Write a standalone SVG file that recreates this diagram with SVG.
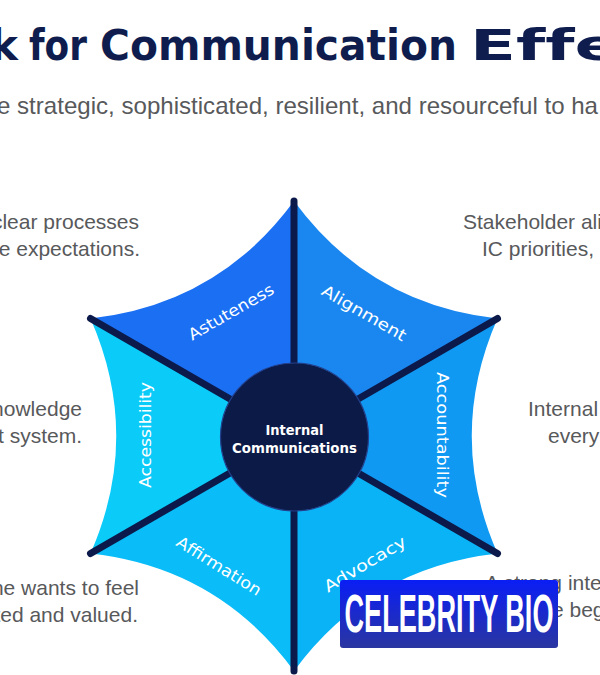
<svg xmlns="http://www.w3.org/2000/svg" width="600" height="675" viewBox="0 0 600 675">
<defs>
<linearGradient id="badgeGrad" x1="0" y1="0" x2="0" y2="1">
<stop offset="0" stop-color="#0a1ef5"/>
<stop offset="1" stop-color="#2a36a0"/>
</linearGradient>
</defs>
<style>
.body{font-family:"Liberation Sans",Arial,sans-serif;font-size:21px;fill:#58595b}
.title{font-family:"DejaVu Sans",sans-serif;font-size:42px;font-weight:bold;fill:#0f1d4e;font-variant-ligatures:none}
.lbl{font-family:"DejaVu Sans",sans-serif;font-size:16px;fill:#ffffff;text-anchor:middle}
.ctr{font-family:"DejaVu Sans",sans-serif;font-size:14px;font-weight:bold;fill:#ffffff;text-anchor:middle}
.spoke{stroke:#0b1a4a;stroke-width:7;stroke-linecap:round;fill:none}
</style>
<rect width="600" height="675" fill="#ffffff"/>
<g id="title">
<text class="title" x="-10" y="60">k</text>
<text class="title" x="29" y="60" textLength="58" lengthAdjust="spacingAndGlyphs">for</text>
<text class="title" x="100" y="60" textLength="357" lengthAdjust="spacingAndGlyphs">Communication</text>
<text class="title" x="470" y="60" textLength="150" lengthAdjust="spacingAndGlyphs">Effe</text>
</g>
<g id="subtitle">
<text class="body" style="font-size:24px" x="-3" y="114" textLength="601" lengthAdjust="spacingAndGlyphs">e strategic, sophisticated, resilient, and resourceful to ha</text>
</g>
<g id="sector-astuteness">
<path d="M294 436 L90.5 318.5 Q218 304.4 294 201 Z" fill="#1a6ff3"/>
<text class="lbl" transform="translate(231 312) rotate(-30)" x="0" y="5.5" textLength="96" lengthAdjust="spacingAndGlyphs">Astuteness</text>
</g>
<g id="sector-alignment">
<path d="M294 436 L294 201 Q370 304.4 497.5 318.5 Z" fill="#1a87f0"/>
<text class="lbl" transform="translate(364 313) rotate(30)" x="0" y="5.5" textLength="95" lengthAdjust="spacingAndGlyphs">Alignment</text>
</g>
<g id="sector-accountability">
<path d="M294 436 L497.5 318.5 Q446 436 497.5 553.5 Z" fill="#0f99f3"/>
<text class="lbl" transform="translate(442 435) rotate(90)" x="0" y="5.5" textLength="126" lengthAdjust="spacingAndGlyphs">Accountability</text>
</g>
<g id="sector-advocacy">
<path d="M294 436 L497.5 553.5 Q370 567.6 294 671 Z" fill="#0ab3f5"/>
<text class="lbl" transform="translate(365 564) rotate(-31)" x="0" y="5.5" textLength="93" lengthAdjust="spacingAndGlyphs">Advocacy</text>
</g>
<g id="sector-affirmation">
<path d="M294 436 L294 671 Q218 567.6 90.5 553.5 Z" fill="#0abcf8"/>
<text class="lbl" transform="translate(219 566) rotate(32)" x="0" y="5.5" textLength="97" lengthAdjust="spacingAndGlyphs">Affirmation</text>
</g>
<g id="sector-accessibility">
<path d="M294 436 L90.5 553.5 Q142 436 90.5 318.5 Z" fill="#0bcbf9"/>
<text class="lbl" transform="translate(145 435) rotate(-90)" x="0" y="5.5" textLength="106" lengthAdjust="spacingAndGlyphs">Accessibility</text>
</g>
<g id="connectors">
<line class="spoke" x1="294" y1="436" x2="294" y2="201"/>
<line class="spoke" x1="294" y1="436" x2="497.5" y2="318.5"/>
<line class="spoke" x1="294" y1="436" x2="497.5" y2="553.5"/>
<line class="spoke" x1="294" y1="436" x2="294" y2="671"/>
<line class="spoke" x1="294" y1="436" x2="90.5" y2="553.5"/>
<line class="spoke" x1="294" y1="436" x2="90.5" y2="318.5"/>
</g>
<g id="center">
<circle cx="294.5" cy="437" r="74" fill="#0c1a47" stroke="#23408c" stroke-width="1.2"/>
<text class="ctr" x="294.5" y="435" textLength="58" lengthAdjust="spacingAndGlyphs">Internal</text>
<text class="ctr" x="294.5" y="453" textLength="125" lengthAdjust="spacingAndGlyphs">Communications</text>
</g>
<g id="text-left">
<text class="body" x="139" y="229" text-anchor="end">clear processes</text>
<text class="body" x="140" y="256" text-anchor="end">e expectations.</text>
<text class="body" x="82" y="416" text-anchor="end">nowledge</text>
<text class="body" x="82" y="443" text-anchor="end">t system.</text>
<text class="body" x="139" y="595" text-anchor="end">ne wants to feel</text>
<text class="body" x="138" y="622" text-anchor="end">ted and valued.</text>
</g>
<g id="text-right">
<text class="body" x="463" y="229">Stakeholder ali</text>
<text class="body" x="482" y="256">IC priorities,</text>
<text class="body" x="528" y="416">Internal</text>
<text class="body" x="548" y="443">every</text>
<text class="body" x="485" y="590">A strong inte</text>
<text class="body" x="552" y="617">e beg</text>
</g>
<g id="badge">
<rect x="340" y="580" width="218" height="68" rx="3" fill="url(#badgeGrad)"/>
<text x="449" y="632" text-anchor="middle" textLength="209" lengthAdjust="spacingAndGlyphs" style="font-family:'Liberation Sans',Arial,sans-serif;font-weight:bold;font-size:54px;fill:#ffffff">CELEBRITY BIO</text>
</g>
</svg>
